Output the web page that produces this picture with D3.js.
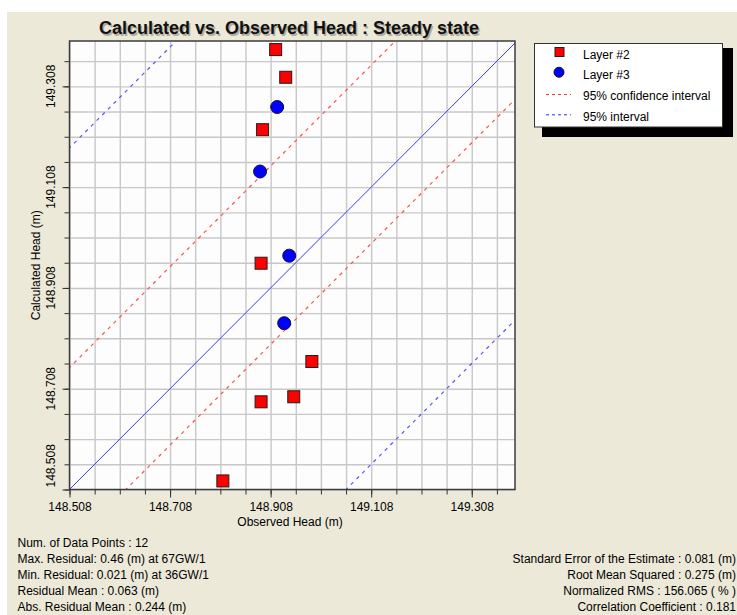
<!DOCTYPE html>
<html>
<head>
<meta charset="utf-8">
<script src="https://cdn.jsdelivr.net/npm/d3@7"></script>
<style>
body { margin: 0; background: #fff; }
svg text { font-family: "Liberation Sans", Arial, sans-serif; fill: #000; }
</style>
</head>
<body>
<div id="chart"></div>
<script>
// Layer #2 (squares)
var layer2Observed   = [148.918, 148.938, 148.892, 148.889, 148.990, 148.954, 148.889, 148.813];
var layer2Calculated = [149.381, 149.326, 149.222, 148.957, 148.762, 148.692, 148.682, 148.525];
// Layer #3 (circles)
var layer3Observed   = [148.921, 148.887, 148.945, 148.935];
var layer3Calculated = [149.267, 149.139, 148.972, 148.838];

// offsets of the reference lines from y = x
var confidenceOffsets = [0.242, -0.112];
var intervalOffsets = [0.678, -0.550];

var xDomain = [148.508, 149.394],
    yDomain = [148.508, 149.398];
var majorTicks = [148.508, 148.708, 148.908, 149.108, 149.308];
var gridStep = 0.05;

var titleText = "Calculated vs. Observed Head : Steady state";
var legendLabels = ["Layer #2", "Layer #3", "95% confidence interval", "95% interval"];
var statsLeft = [
    "Num. of Data Points : 12",
    "Max. Residual: 0.46 (m) at 67GW/1",
    "Min. Residual: 0.021 (m) at 36GW/1",
    "Residual Mean : 0.063 (m)",
    "Abs. Residual Mean : 0.244 (m)"
];
var statsRight = [
    "Standard Error of the Estimate : 0.081 (m)",
    "Root Mean Squared : 0.275 (m)",
    "Normalized RMS : 156.065 ( % )",
    "Correlation Coefficient : 0.181"
];

var pLeft = 69.5, pRight = 515, pTop = 41, pBottom = 489.5;

var X = d3.scaleLinear().domain(xDomain).range([pLeft, pRight]),
    Y = d3.scaleLinear().domain(yDomain).range([pBottom, pTop]);

var svg = d3.select("#chart").append("svg")
    .attr("width", 737)
    .attr("height", 615);

// window background
svg.append("rect")
    .attr("x", 7).attr("y", 12)
    .attr("width", 730).attr("height", 603)
    .style("fill", "#ece9d8");

// title with soft shadow
svg.append("text")
    .attr("x", 290.5).attr("y", 35.5)
    .attr("text-anchor", "middle")
    .style("font-size", "18px").style("font-weight", "bold")
    .style("fill", "#b0ad9f")
    .text(titleText);
svg.append("text")
    .attr("x", 289).attr("y", 34)
    .attr("text-anchor", "middle")
    .style("font-size", "18px").style("font-weight", "bold")
    .style("fill", "#111")
    .text(titleText);

// plot area
svg.append("rect")
    .attr("x", pLeft).attr("y", pTop)
    .attr("width", pRight - pLeft).attr("height", pBottom - pTop)
    .style("fill", "#fdfdfd");

var gridX = d3.range(xDomain[0], xDomain[1], gridStep),
    gridY = d3.range(yDomain[0], yDomain[1], gridStep);

svg.append("g")
    .attr("transform", "translate(0," + pBottom + ")")
    .call(d3.axisBottom(X).tickValues(gridX).tickSize(-(pBottom - pTop)).tickFormat(""))
    .call(function (g) { g.select(".domain").remove(); })
    .selectAll("line").style("stroke", "#c8c8c8").style("stroke-width", 1.4);

svg.append("g")
    .attr("transform", "translate(" + pLeft + ",0)")
    .call(d3.axisLeft(Y).tickValues(gridY).tickSize(-(pRight - pLeft)).tickFormat(""))
    .call(function (g) { g.select(".domain").remove(); })
    .selectAll("line").style("stroke", "#c8c8c8").style("stroke-width", 1.4);

// reference lines, clipped to plot
svg.append("clipPath").attr("id", "plotclip")
    .append("rect")
    .attr("x", pLeft).attr("y", pTop)
    .attr("width", pRight - pLeft).attr("height", pBottom - pTop);

var lines = svg.append("g").attr("clip-path", "url(#plotclip)");
var ends = [148.0, 150.0];
var diag = d3.line()
    .x(function (d) { return X(d[0]); })
    .y(function (d) { return Y(d[1]); });

function offsetLine(c) {
    return ends.map(function (v) { return [v, v + c]; });
}

lines.append("path")
    .attr("d", diag(offsetLine(0)))
    .style("fill", "none").style("stroke", "#3a3aff").style("stroke-width", 1);

lines.selectAll(".conf")
    .data(confidenceOffsets)
    .enter().append("path")
    .attr("class", "conf")
    .attr("d", function (c) { return diag(offsetLine(c)); })
    .style("fill", "none").style("stroke", "#ff5050")
    .style("stroke-width", 1.2).style("stroke-dasharray", "3.5,4.5");

lines.selectAll(".intv")
    .data(intervalOffsets)
    .enter().append("path")
    .attr("class", "intv")
    .attr("d", function (c) { return diag(offsetLine(c)); })
    .style("fill", "none").style("stroke", "#5555ff")
    .style("stroke-width", 1.2).style("stroke-dasharray", "3.5,4.5");

// axes: minor and major ticks
svg.append("g")
    .attr("transform", "translate(0," + pBottom + ")")
    .call(d3.axisBottom(X).tickValues(gridX).tickSize(5).tickFormat(""))
    .call(function (g) { g.select(".domain").remove(); })
    .selectAll("line").style("stroke", "#333");

var xAxis = svg.append("g")
    .attr("transform", "translate(0," + pBottom + ")")
    .call(d3.axisBottom(X).tickValues(majorTicks).tickSize(8).tickPadding(5).tickFormat(d3.format(".3f")));
xAxis.select(".domain").remove();
xAxis.selectAll("line").style("stroke", "#333");
xAxis.selectAll("text").style("font-size", "12px").style("fill", "#000")
    .style("font-family", "'Liberation Sans', Arial, sans-serif");

svg.append("g")
    .attr("transform", "translate(" + pLeft + ",0)")
    .call(d3.axisLeft(Y).tickValues(gridY).tickSize(5).tickFormat(""))
    .call(function (g) { g.select(".domain").remove(); })
    .selectAll("line").style("stroke", "#333");

svg.append("g")
    .attr("transform", "translate(" + pLeft + ",0)")
    .call(d3.axisLeft(Y).tickValues(majorTicks).tickSize(7).tickFormat(""))
    .call(function (g) { g.select(".domain").remove(); })
    .selectAll("line").style("stroke", "#333");

// rotated y tick labels, the lowest one is kept inside the axis
svg.selectAll(".ylab")
    .data(majorTicks)
    .enter().append("text")
    .attr("class", "ylab")
    .style("font-size", "12px")
    .attr("text-anchor", "middle")
    .attr("dominant-baseline", "central")
    .text(d3.format(".3f"))
    .attr("transform", function (d) {
        var half = this.getComputedTextLength() / 2 + 2;
        var yy = Math.min(Y(d), pBottom - half);
        return "translate(51," + yy + ") rotate(-90)";
    });

// plot frame
svg.append("rect")
    .attr("x", pLeft).attr("y", pTop)
    .attr("width", pRight - pLeft).attr("height", pBottom - pTop)
    .style("fill", "none").style("stroke", "#3c3c3c").style("stroke-width", 1.5);

// axis titles
svg.append("text")
    .attr("x", 290).attr("y", 522)
    .attr("text-anchor", "middle").attr("dominant-baseline", "central")
    .style("font-size", "12px")
    .text("Observed Head (m)");

svg.append("text")
    .attr("transform", "translate(36," + ((pTop + pBottom) / 2) + ") rotate(-90)")
    .attr("text-anchor", "middle").attr("dominant-baseline", "central")
    .style("font-size", "12px")
    .text("Calculated Head (m)");

// markers
var pts = svg.append("g");
pts.selectAll(".sq")
    .data(d3.zip(layer2Observed, layer2Calculated))
    .enter().append("rect")
    .attr("class", "sq")
    .attr("x", function (d) { return X(d[0]) - 6; })
    .attr("y", function (d) { return Y(d[1]) - 6; })
    .attr("width", 12).attr("height", 12)
    .style("fill", "#ff0000").style("stroke", "#2a1a1a").style("stroke-width", 1);

pts.selectAll(".ci")
    .data(d3.zip(layer3Observed, layer3Calculated))
    .enter().append("circle")
    .attr("class", "ci")
    .attr("cx", function (d) { return X(d[0]); })
    .attr("cy", function (d) { return Y(d[1]); })
    .attr("r", 6.5)
    .style("fill", "#0000ff").style("stroke", "#101030").style("stroke-width", 1);

// legend
svg.append("rect")
    .attr("x", 542).attr("y", 48)
    .attr("width", 191).attr("height", 89)
    .style("fill", "#000");
svg.append("rect")
    .attr("x", 534.5).attr("y", 43.5)
    .attr("width", 188).attr("height", 83.5)
    .style("fill", "#fff").style("stroke", "#333").style("stroke-width", 1);

var legendY = d3.scalePoint().domain(legendLabels).range([54.5, 116.8]);
var lg = svg.append("g");
lg.selectAll("text")
    .data(legendLabels)
    .enter().append("text")
    .attr("x", 583)
    .attr("y", function (d) { return legendY(d); })
    .attr("dominant-baseline", "central")
    .style("font-size", "12px")
    .text(function (d) { return d; });

lg.append("rect")
    .attr("x", 559.5 - 4.5).attr("y", legendY(legendLabels[0]) - 2.5 - 4.5)
    .attr("width", 9).attr("height", 9)
    .style("fill", "#ff0000").style("stroke", "#2a1a1a").style("stroke-width", 1);
lg.append("circle")
    .attr("cx", 559).attr("cy", legendY(legendLabels[1]) - 3)
    .attr("r", 5)
    .style("fill", "#0000ff").style("stroke", "#101030").style("stroke-width", 1);
lg.append("line")
    .attr("x1", 546).attr("x2", 571)
    .attr("y1", legendY(legendLabels[2]) - 1.5).attr("y2", legendY(legendLabels[2]) - 1.5)
    .style("stroke", "#ff3030").style("stroke-dasharray", "3,3");
lg.append("line")
    .attr("x1", 546).attr("x2", 571)
    .attr("y1", legendY(legendLabels[3]) - 2).attr("y2", legendY(legendLabels[3]) - 2)
    .style("stroke", "#3030ff").style("stroke-dasharray", "3,3");

// statistics
svg.selectAll(".statL")
    .data(statsLeft)
    .enter().append("text")
    .attr("class", "statL")
    .attr("x", 17.5)
    .attr("y", function (d, i) { return 543.3 + i * 15.85; })
    .attr("dominant-baseline", "central")
    .style("font-size", "12px")
    .text(function (d) { return d; });

svg.selectAll(".statR")
    .data(statsRight)
    .enter().append("text")
    .attr("class", "statR")
    .attr("x", 736)
    .attr("y", function (d, i) { return 559.2 + i * 15.85; })
    .attr("text-anchor", "end")
    .attr("dominant-baseline", "central")
    .style("font-size", "12px")
    .text(function (d) { return d; });
</script>
</body>
</html>
